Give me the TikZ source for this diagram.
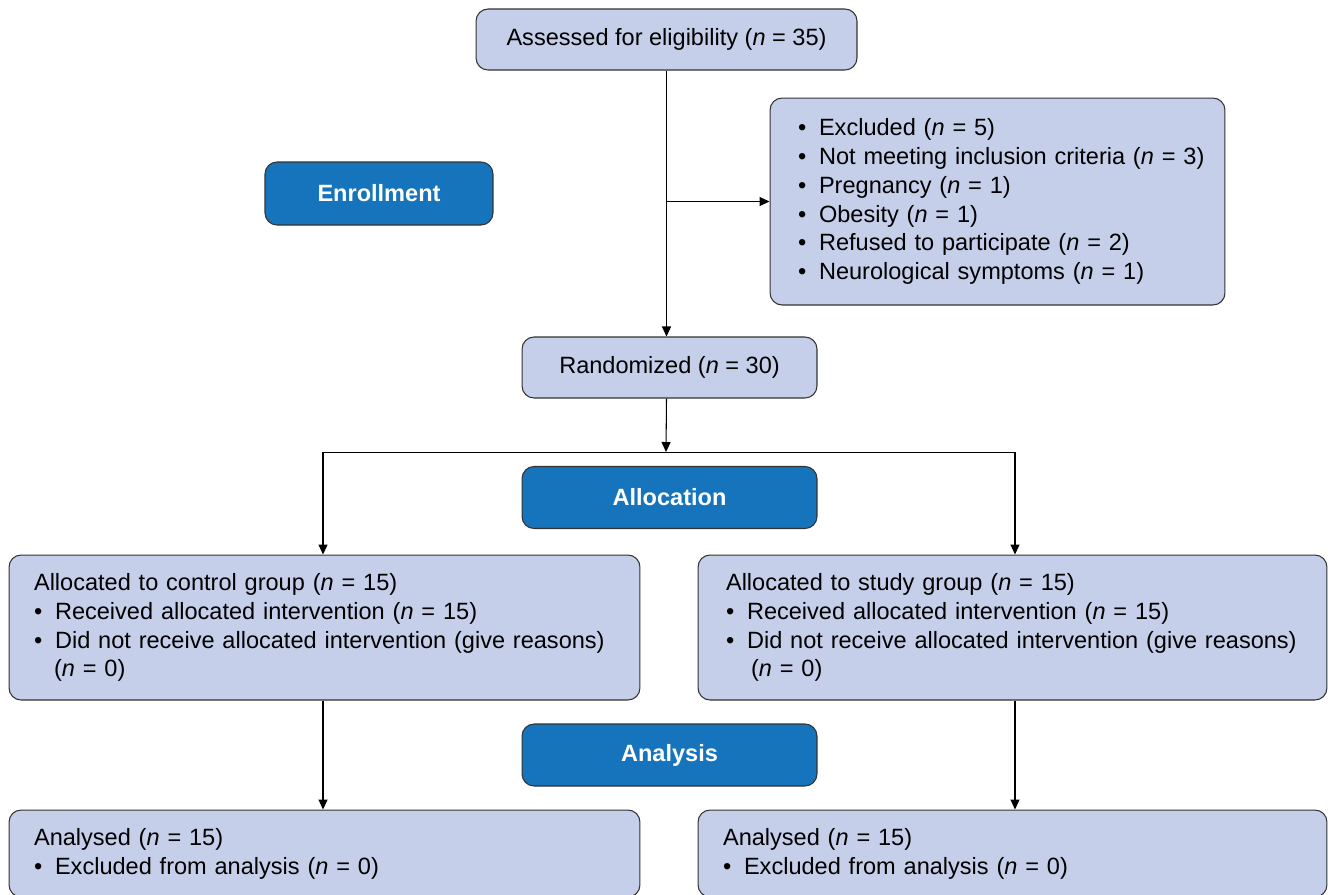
\documentclass[tikz,border=0pt]{standalone}
\usepackage{fontspec}
\setmainfont{Liberation Sans}
\usetikzlibrary{arrows.meta}

\definecolor{boxfill}{RGB}{197,207,233}
\definecolor{headfill}{RGB}{21,116,187}
\definecolor{boxline}{RGB}{51,51,51}

\newcommand{\nn}[1]{(\textit{n} = #1)}
\newcommand{\bul}{\makebox[0.42cm][l]{\textbullet}}
\newcommand{\cont}{\hspace*{0.4cm}}

\begin{document}
\begin{tikzpicture}[x=0.02cm,y=-0.02cm,
    every node/.style={font=\fontsize{13.4}{16.4}\selectfont},
    box/.style={draw=boxline,line width=0.6pt,fill=boxfill,rounded corners=0.24cm,inner xsep=0.5cm,inner ysep=0pt},
    head/.style={draw=boxline,line width=0.6pt,fill=headfill,rounded corners=0.24cm,text=white,
      font=\fontsize{13.4}{16.4}\selectfont\bfseries,minimum width=5.9cm,minimum height=1.24cm},
    arr/.style={-{Triangle[length=0.2cm,width=0.18cm]},line width=0.6pt}]

    \useasboundingbox (0,0) rectangle (1328,894);
    \clip (0,0) rectangle (1328,894);

    \node[box,minimum width=7.62cm,minimum height=1.22cm] (assess) at (666.5,39.5) {Assessed for eligibility \nn{35}};
    \node[box,text width=7.98cm,inner xsep=0.56cm,minimum height=4.14cm,align=left] (excl) at (997.5,201.5)
      {\bul Excluded \nn{5}\\ \bul \mbox{Not meeting inclusion criteria \nn{3}}\\ \bul Pregnancy \nn{1}\\
       \bul Obesity \nn{1}\\ \bul Refused to participate \nn{2}\\ \bul Neurological symptoms \nn{1}};
    \node[head,minimum width=4.56cm,minimum height=1.26cm] (enroll) at (379,193.5) {Enrollment};
    \node[box,minimum width=5.9cm,minimum height=1.22cm] (rand) at (669.5,367.5) {Randomized \nn{30}};
    \node[head] (alloc) at (669.5,497.5) {Allocation};

    \node[box,text width=11.62cm,minimum height=2.9cm,align=left] (ctrl) at (324.5,627.5)
      {Allocated to control group \nn{15}\\ \bul Received allocated intervention \nn{15}\\
       \bul Did not receive allocated intervention (give reasons)\\ \cont\nn{0}};
    \node[box,text width=11.46cm,inner xsep=0.56cm,minimum height=2.9cm,align=left] (study) at (1012.5,627.5)
      {Allocated to study group \nn{15}\\ \bul Received allocated intervention \nn{15}\\
       \bul Did not receive allocated intervention (give reasons)\\ \hspace*{0.5cm}\nn{0}};

    \node[head] (analysis) at (669.5,755) {Analysis};

    \node[box,text width=11.62cm,minimum height=1.74cm,align=left] (anl) at (324.5,853.5)
      {Analysed \nn{15}\\ \bul Excluded from analysis \nn{0}};
    \node[box,text width=11.58cm,minimum height=1.74cm,align=left] (anr) at (1012.5,853.5)
      {Analysed \nn{15}\\ \bul Excluded from analysis \nn{0}};

    \coordinate (split) at (666,452);
    \coordinate (lsplit) at (323,452);
    \coordinate (rsplit) at (1015,452);
    \draw[arr] (assess.south) -- (assess.south |- rand.north);
    \draw[arr] (assess.south |- excl.west) -- (excl.west);
    \draw[arr] (assess.south |- rand.south) -- (split);
    \draw (lsplit) -- (rsplit);
    \draw[arr] (lsplit) -- (lsplit |- ctrl.north);
    \draw[arr] (rsplit) -- (rsplit |- study.north);
    \draw[arr] (lsplit |- ctrl.south) -- (lsplit |- anl.north);
    \draw[arr] (rsplit |- study.south) -- (rsplit |- anr.north);

\end{tikzpicture}
\end{document}
